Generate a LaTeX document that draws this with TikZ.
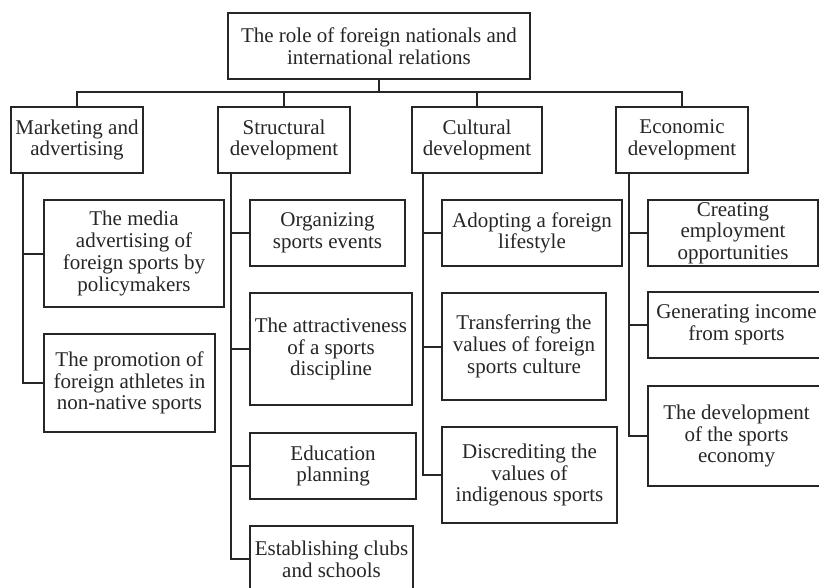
\documentclass[tikz,border=0pt]{standalone}
\usepackage{fontspec}
\setmainfont{Liberation Serif}
\newcommand\diagfont{\fontsize{21}{21.7}\selectfont}
\begin{document}
\begin{tikzpicture}[x=1pt,y=-1pt,
  box/.style={draw=black!85, line width=2pt, inner sep=0pt, align=center, font=\diagfont, text=black!85, fill=white},
  link/.style={draw=black!85, line width=2pt}]
\useasboundingbox[fill=white] (0,0) rectangle (819,588);
\clip (0,0) rectangle (819,588);
% root
\node[box, minimum width=302, minimum height=66] (root) at (379,46) {The role of foreign nationals and\\international relations};
% level 1
\node[box, minimum width=132, minimum height=66] (m) at (77,140) {Marketing and\\advertising};
\node[box, minimum width=132, minimum height=66] (s) at (284,140) {Structural\\development};
\node[box, minimum width=130, minimum height=66] (cu) at (477,140) {Cultural\\development};
\node[box, minimum width=132, minimum height=66] (e) at (682,140) {Economic\\development};
% marketing children
\node[box, minimum width=180, minimum height=107] (m1) at (134,253.5) {The media\\advertising of\\foreign sports by\\policymakers};
\node[box, minimum width=171, minimum height=98] (m2) at (129.5,383) {The promotion of\\foreign athletes in\\non-native sports};
% structural children
\node[box, minimum width=155, minimum height=66] (s1) at (327.5,233) {Organizing\\sports events};
\node[box, minimum width=162, minimum height=112] (s2) at (331,349) {The attractiveness\\of a sports\\discipline};
\node[box, minimum width=166, minimum height=66] (s3) at (333,466) {Education\\planning};
\node[box, minimum width=163, minimum height=66] (s4) at (331.5,559) {Establishing clubs\\and schools};
% cultural children
\node[box, minimum width=180, minimum height=66] (c1) at (532,233) {Adopting a foreign\\lifestyle};
\node[box, minimum width=164, minimum height=107] (c2) at (524,346.5) {Transferring the\\values of foreign\\sports culture};
\node[box, minimum width=175, minimum height=96] (c3) at (529.5,475) {Discrediting the\\values of\\indigenous sports};
% economic children
\node[box, minimum width=170, minimum height=66] (e1) at (733,233) {Creating\\employment\\opportunities};
\node[box, minimum width=177, minimum height=66] (e2) at (736.5,325) {Generating income\\from sports};
\node[box, minimum width=177, minimum height=100] (e3) at (736.5,436) {The development\\of the sports\\economy};
% bus
\coordinate (bus) at (379,92);
\draw[link] (root.south) -- (bus);
\draw[link] (bus) -| (m.north);
\draw[link] (bus) -| (s.north);
\draw[link] (bus) -| (cu.north);
\draw[link] (bus) -| (e.north);
% trunks
\coordinate (tm) at (23,173);
\coordinate (ts) at (231,173);
\coordinate (tc) at (423,173);
\coordinate (te) at (629,173);
\draw[link] (tm) |- (m1.west);
\draw[link] (tm) |- (m2.west);
\draw[link] (ts) |- (s1.west);
\draw[link] (ts) |- (s2.west);
\draw[link] (ts) |- (s3.west);
\draw[link] (ts) |- (s4.west);
\draw[link] (tc) |- (c1.west);
\draw[link] (tc) |- (c2.west);
\draw[link] (tc) |- (c3.west);
\draw[link] (te) |- (e1.west);
\draw[link] (te) |- (e2.west);
\draw[link] (te) |- (e3.west);
\end{tikzpicture}
\end{document}
